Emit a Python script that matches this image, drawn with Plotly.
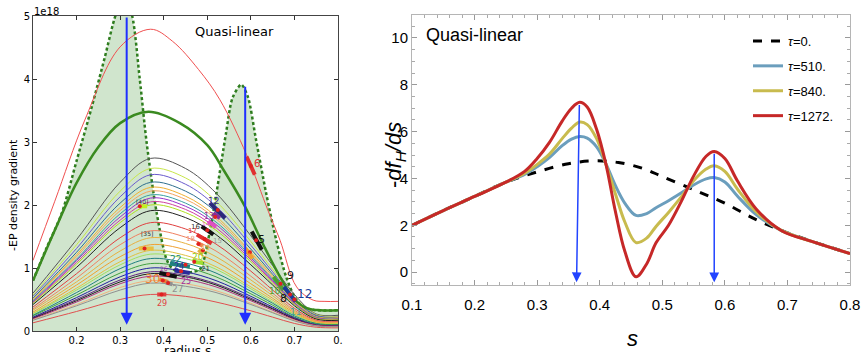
import plotly.graph_objects as go

# ---------------- LEFT PANEL DATA ----------------
# shaded region boundary (dashed green)
band_s = [0.1, 0.13, 0.166, 0.2, 0.235, 0.265, 0.29, 0.31, 0.327, 0.345, 0.361, 0.384, 0.407, 0.422,
          0.45, 0.483, 0.502, 0.521, 0.543, 0.558, 0.578, 0.593, 0.612, 0.635, 0.658, 0.681, 0.70,
          0.72, 0.75, 0.8]
band_v = [0.8, 1.3, 1.87, 2.7, 3.56, 4.35, 5.02, 5.3, 5.02, 4.0, 2.98, 1.87, 1.13, 0.98,
          0.93, 0.98, 1.45, 2.19, 3.14, 3.7, 3.91, 3.72, 3.03, 2.19, 1.45, 0.86, 0.55,
          0.38, 0.33, 0.33]

thick_s = [0.1, 0.15, 0.2, 0.25, 0.3, 0.365, 0.437, 0.5, 0.537, 0.587, 0.63, 0.667, 0.7, 0.73, 0.76, 0.8]
thick_v = [0.8, 1.6, 2.35, 2.92, 3.3, 3.48, 3.3, 2.95, 2.56, 1.97, 1.35, 0.86, 0.5, 0.36, 0.33, 0.33]

redthin_s = [0.1, 0.15, 0.219, 0.3, 0.37, 0.42, 0.48, 0.529, 0.59, 0.64, 0.667, 0.705, 0.743, 0.77, 0.8]
redthin_v = [1.12, 2.06, 3.35, 4.51, 4.79, 4.6, 4.15, 3.67, 2.8, 1.9, 1.44, 0.7, 0.49, 0.47, 0.47]

thin_s = [0.1, 0.2, 0.3, 0.37, 0.45, 0.52, 0.6, 0.65, 0.7, 0.75, 0.8]
thin_curves = [
    [0.60, 1.45, 2.36, 2.74, 2.58, 2.19, 1.51, 1.04, 0.58, 0.27, 0.25],
    [0.57, 1.37, 2.22, 2.58, 2.43, 2.06, 1.42, 0.98, 0.54, 0.26, 0.23],
    [0.55, 1.31, 2.13, 2.48, 2.33, 1.98, 1.36, 0.94, 0.52, 0.25, 0.22],
    [0.52, 1.25, 2.03, 2.36, 2.22, 1.89, 1.30, 0.90, 0.50, 0.24, 0.21],
    [0.50, 1.21, 1.96, 2.28, 2.14, 1.82, 1.25, 0.87, 0.48, 0.23, 0.21],
    [0.49, 1.18, 1.91, 2.22, 2.09, 1.78, 1.22, 0.84, 0.47, 0.22, 0.20],
    [0.48, 1.14, 1.86, 2.16, 2.03, 1.73, 1.19, 0.82, 0.45, 0.22, 0.19],
    [0.46, 1.12, 1.81, 2.11, 1.98, 1.69, 1.16, 0.80, 0.44, 0.21, 0.19],
    [0.45, 1.09, 1.76, 2.05, 1.93, 1.64, 1.13, 0.78, 0.43, 0.21, 0.18],
    [0.44, 1.06, 1.72, 2.00, 1.88, 1.60, 1.10, 0.76, 0.42, 0.20, 0.18],
    [0.42, 1.01, 1.64, 1.91, 1.80, 1.53, 1.05, 0.73, 0.40, 0.19, 0.17],
    [0.38, 0.91, 1.48, 1.72, 1.62, 1.38, 0.95, 0.65, 0.36, 0.17, 0.15],
    [0.35, 0.84, 1.37, 1.59, 1.49, 1.27, 0.87, 0.60, 0.33, 0.16, 0.14],
    [0.33, 0.78, 1.27, 1.48, 1.39, 1.18, 0.81, 0.56, 0.31, 0.15, 0.13],
    [0.30, 0.73, 1.18, 1.37, 1.29, 1.10, 0.75, 0.52, 0.29, 0.14, 0.12],
    [0.28, 0.68, 1.10, 1.28, 1.20, 1.02, 0.70, 0.49, 0.27, 0.13, 0.12],
    [0.27, 0.65, 1.05, 1.22, 1.15, 0.98, 0.67, 0.46, 0.26, 0.12, 0.11],
    [0.25, 0.61, 0.99, 1.15, 1.08, 0.92, 0.63, 0.44, 0.24, 0.12, 0.10],
    [0.24, 0.57, 0.92, 1.07, 1.01, 0.86, 0.59, 0.41, 0.22, 0.11, 0.10],
    [0.22, 0.53, 0.86, 1.00, 0.94, 0.80, 0.55, 0.38, 0.21, 0.10, 0.09],
    [0.21, 0.50, 0.81, 0.94, 0.88, 0.75, 0.52, 0.36, 0.20, 0.09, 0.08],
    [0.20, 0.48, 0.78, 0.91, 0.86, 0.73, 0.50, 0.35, 0.19, 0.09, 0.08],
    [0.19, 0.46, 0.75, 0.87, 0.82, 0.70, 0.48, 0.33, 0.18, 0.09, 0.08],
    [0.18, 0.42, 0.69, 0.80, 0.75, 0.64, 0.44, 0.30, 0.17, 0.08, 0.07],
    [0.17, 0.40, 0.65, 0.76, 0.71, 0.61, 0.42, 0.29, 0.16, 0.08, 0.07],
    [0.13, 0.31, 0.50, 0.58, 0.55, 0.46, 0.32, 0.22, 0.12, 0.06, 0.05],
]
thin_colors = ["#555555", "#c8e64a", "#6a5acd", "#2f6f8f", "#f0b030", "#f4a460", "#3aa0a0",
               "#9932cc", "#d040a0", "#b0e020", "#222222", "#e04040", "#f08060", "#e8b040",
               "#f0a030", "#e0c040", "#a0e060", "#208080", "#40a040", "#2020a0", "#602080",
               "#202020", "#b03080", "#f0b080", "#909090", "#e05050"]

# mode labels
lab_txt = ["6", "5", "9", "10", "8", "12", "11", "12", "13", "14", "16", "17", "18", "15", "19",
           "20", "22", "21", "24", "26", "25", "30", "27", "29", "[40]", "[35]", "7"]
lab_s = [0.614, 0.624, 0.690, 0.655, 0.676, 0.722, 0.702, 0.515, 0.505, 0.498, 0.474, 0.465,
         0.462, 0.523, 0.497, 0.478, 0.427, 0.497, 0.434, 0.400, 0.450, 0.374, 0.432, 0.396,
         0.350, 0.361, 0.595]
lab_v = [2.66, 1.45, 0.88, 0.64, 0.52, 0.58, 0.30, 2.07, 1.81, 1.71, 1.65, 1.58, 1.46, 1.43,
         1.31, 1.17, 1.14, 0.99, 1.02, 1.00, 0.79, 0.82, 0.66, 0.44, 2.05, 1.55, 1.22]
lab_col = ["#e03030", "#111111", "#111111", "#50a030", "#111111", "#1a3a9a", "#40a0a0",
           "#3a2a8a", "#9030a0", "#e050c0", "#333333", "#e03030", "#f09070", "#999999",
           "#e0b040", "#90d020", "#208080", "#333333", "#2a2a9a", "#a030a0", "#a030a0",
           "#f08030", "#909090", "#e04040", "#333333", "#333333", "#f0a030"]
lab_size = [10, 11, 11, 9, 11, 12, 9, 9, 8, 6, 7, 7, 7, 7, 7, 9, 9, 7, 8, 6, 8, 12, 9, 8, 6, 6, 6]

# short thick marker segments
seg_s0 = [0.590, 0.602, 0.587, 0.652, 0.676, 0.506, 0.514, 0.502, 0.487, 0.476, 0.476, 0.480,
          0.468, 0.414, 0.425, 0.390, 0.390, 0.405, 0.385, 0.343, 0.343]
seg_v0 = [2.77, 1.58, 1.31, 0.86, 0.70, 2.03, 1.87, 1.74, 1.66, 1.53, 1.40, 1.29, 1.10, 1.07,
          0.96, 0.92, 0.82, 0.77, 0.58, 1.98, 1.31]
seg_s1 = [0.609, 0.625, 0.604, 0.675, 0.703, 0.541, 0.529, 0.520, 0.514, 0.510, 0.490, 0.490,
          0.490, 0.460, 0.460, 0.430, 0.410, 0.420, 0.406, 0.362, 0.377]
seg_v1 = [2.48, 1.29, 1.15, 0.65, 0.47, 1.79, 1.79, 1.65, 1.53, 1.39, 1.35, 1.22, 1.08, 1.02,
          0.92, 0.86, 0.78, 0.74, 0.58, 1.98, 1.31]
seg_col = ["#e03030", "#111111", "#f0a030", "#50a030", "#1a3a9a", "#2a2a7a", "#8a2a9a",
           "#e050c0", "#111111", "#e03030", "#f08050", "#e0b040", "#a0e030", "#208080",
           "#2a2a9a", "#111111", "#f08030", "#909090", "#e04040", "#c0f020", "#e8c040"]

dot_s = [0.600, 0.612, 0.598, 0.668, 0.690, 0.700, 0.524, 0.518, 0.500, 0.494, 0.480, 0.470,
         0.450, 0.410, 0.440, 0.398, 0.410, 0.395, 0.345, 0.356, 0.490]
dot_v = [2.62, 1.44, 1.25, 0.75, 0.58, 0.50, 1.92, 1.81, 1.60, 1.46, 1.38, 1.10, 1.05, 0.90,
         0.95, 0.80, 0.76, 0.58, 1.98, 1.31, 1.28]

# arrows (left)
arrowL_s = [0.315, 0.587]
arrowL_top = [5.0, 3.9]
arrowL_bot = [0.1, 0.1]

left_xtick_vals = [0.2, 0.3, 0.4, 0.5, 0.6, 0.7, 0.8]
left_xtick_text = ["0.2", "0.3", "0.4", "0.5", "0.6", "0.7", "0."]

# ---------------- RIGHT PANEL DATA ----------------
tau0_s = [0.1, 0.15, 0.2, 0.25, 0.3, 0.35, 0.39, 0.43, 0.47, 0.5, 0.55, 0.6, 0.65, 0.7, 0.75, 0.8]
tau0_v = [2.0, 2.63, 3.23, 3.84, 4.28, 4.63, 4.75, 4.68, 4.42, 4.08, 3.52, 2.94, 2.24, 1.68, 1.22, 0.79]

r_s = [0.1, 0.15, 0.2, 0.25, 0.28, 0.3, 0.32, 0.34, 0.355, 0.368, 0.38, 0.395, 0.41, 0.425,
       0.44, 0.458, 0.475, 0.49, 0.51, 0.53, 0.55, 0.57, 0.583, 0.6, 0.62, 0.65, 0.69, 0.74, 0.8]
tau510_v = [2.0, 2.63, 3.23, 3.84, 4.17, 4.5, 4.9, 5.4, 5.68, 5.79, 5.72, 5.35, 4.62, 3.7,
            2.95, 2.42, 2.5, 2.75, 3.05, 3.38, 3.72, 3.98, 4.04, 3.85, 3.25, 2.46, 1.78, 1.3, 0.79]
tau840_v = [2.0, 2.63, 3.23, 3.84, 4.22, 4.6, 5.05, 5.7, 6.15, 6.41, 6.3, 5.7, 4.6, 3.35,
            2.15, 1.26, 1.45, 1.95, 2.55, 3.2, 3.9, 4.4, 4.54, 4.3, 3.55, 2.58, 1.78, 1.3, 0.79]
tau1272_v = [2.0, 2.63, 3.23, 3.84, 4.3, 4.85, 5.55, 6.45, 7.0, 7.25, 7.05, 6.1, 4.6, 2.6,
             0.9, -0.2, 0.35, 1.25, 2.0, 3.0, 4.1, 4.95, 5.15, 4.85, 3.9, 2.7, 1.78, 1.3, 0.79]

arrowR_s_top = [0.3675, 0.583]
arrowR_s_bot = [0.363, 0.583]
arrowR_top = [7.2, 5.12]
arrowR_bot = [-0.43, -0.43]

fig = go.Figure()

# ---- left traces ----
fig.add_trace(go.Scatter(x=band_s, y=band_v, mode="lines", fill="tozeroy",
                         fillcolor="rgba(80,160,70,0.27)",
                         line=dict(color="#2e7d1e", width=2.5, dash="3px,2.5px", shape="spline", smoothing=0.8),
                         xaxis="x", yaxis="y", showlegend=False))
for vals, col in zip(thin_curves, thin_colors):
    fig.add_trace(go.Scatter(x=thin_s, y=vals, mode="lines", line=dict(color=col, width=1, shape="spline"),
                             xaxis="x", yaxis="y", showlegend=False))
fig.add_trace(go.Scatter(x=thick_s, y=thick_v, mode="lines", line=dict(color="#3a8a20", width=2.5, shape="spline"),
                         xaxis="x", yaxis="y", showlegend=False))
fig.add_trace(go.Scatter(x=redthin_s, y=redthin_v, mode="lines", line=dict(color="#f05050", width=1, shape="spline"),
                         xaxis="x", yaxis="y", showlegend=False))
for a, b, c, d, col in zip(seg_s0, seg_v0, seg_s1, seg_v1, seg_col):
    fig.add_trace(go.Scatter(x=[a, c], y=[b, d], mode="lines", line=dict(color=col, width=4),
                             xaxis="x", yaxis="y", showlegend=False))
fig.add_trace(go.Scatter(x=dot_s, y=dot_v, mode="markers", marker=dict(color="#e02020", size=4),
                         xaxis="x", yaxis="y", showlegend=False))

# ---- right traces ----
fig.add_trace(go.Scatter(x=tau0_s, y=tau0_v, mode="lines", name="<i>τ</i>=0.",
                         line=dict(color="black", width=3, dash="dash", shape="spline"),
                         xaxis="x2", yaxis="y2", legendgroup="a"))
fig.add_trace(go.Scatter(x=r_s, y=tau510_v, mode="lines", name="<i>τ</i>=510.",
                         line=dict(color="#6b9ebd", width=3, shape="spline"),
                         xaxis="x2", yaxis="y2", legendgroup="b"))
fig.add_trace(go.Scatter(x=r_s, y=tau840_v, mode="lines", name="<i>τ</i>=840.",
                         line=dict(color="#c8bb4e", width=3, shape="spline"),
                         xaxis="x2", yaxis="y2", legendgroup="c"))
fig.add_trace(go.Scatter(x=r_s, y=tau1272_v, mode="lines", name="<i>τ</i>=1272.",
                         line=dict(color="#c62828", width=3, shape="spline"),
                         xaxis="x2", yaxis="y2", legendgroup="d"))

annotations = []
for t, s, v, c, sz in zip(lab_txt, lab_s, lab_v, lab_col, lab_size):
    annotations.append(dict(x=s, y=v, xref="x", yref="y", text=t, showarrow=False,
                            xanchor="center", yanchor="middle",
                            font=dict(color=c, size=sz, family="DejaVu Sans")))
for s, top, bot in zip(arrowL_s, arrowL_top, arrowL_bot):
    annotations.append(dict(x=s, y=bot, ax=s, ay=top, xref="x", yref="y", axref="x", ayref="y",
                            text="", showarrow=True, arrowhead=2, arrowsize=1.2, arrowwidth=2,
                            arrowcolor="#1f2fff", standoff=0, startstandoff=0))
for s0, s1, top, bot in zip(arrowR_s_top, arrowR_s_bot, arrowR_top, arrowR_bot):
    annotations.append(dict(x=s1, y=bot, ax=s0, ay=top, xref="x2", yref="y2", axref="x2", ayref="y2",
                            text="", showarrow=True, arrowhead=2, arrowsize=1.3, arrowwidth=1.5,
                            arrowcolor="#2244ff", standoff=0, startstandoff=0))


def paper_text(px, py, text, size, family, xanchor="center", yanchor="middle", angle=0):
    return dict(x=px / 861, y=1 - py / 352, xref="paper", yref="paper", text=text, showarrow=False,
                xanchor=xanchor, yanchor=yanchor, textangle=angle,
                font=dict(size=size, family=family, color="black"))


annotations += [
    paper_text(234, 31, "Quasi-linear", 13, "DejaVu Sans"),
    paper_text(13, 195, "-EP density gradient", 11, "DejaVu Sans", angle=-90),
    paper_text(32, 11, "1e18", 10, "DejaVu Sans", xanchor="left"),
    paper_text(187, 342, "radius s", 12, "DejaVu Sans", yanchor="top"),
    paper_text(424, 35, "Quasi-linear", 18, "Liberation Sans", xanchor="left"),
    paper_text(395, 155, "-<i>df</i><sub><i>H</i></sub><i>/ds</i>", 22, "Liberation Sans", angle=-90),
    paper_text(632, 338, "<i>s</i>", 22, "Liberation Sans"),
]

fig.update_layout(
    template="none",
    width=861, height=352, margin=dict(l=0, r=0, t=0, b=0, pad=0),
    paper_bgcolor="white", plot_bgcolor="white",
    xaxis=dict(domain=[33 / 861, 338 / 861], range=[0.1, 0.8], anchor="y", automargin=False,
               tickvals=left_xtick_vals, ticktext=left_xtick_text, ticks="inside", ticklen=4,
               tickcolor="#333", showline=True, linecolor="#444", linewidth=1, mirror="ticks",
               showgrid=False, zeroline=False, tickfont=dict(size=10, family="DejaVu Sans", color="black")),
    yaxis=dict(domain=[21 / 352, 336 / 352], range=[0, 5], anchor="x", automargin=False,
               tickvals=[0, 1, 2, 3, 4, 5], ticks="inside", ticklen=4, tickcolor="#333",
               showline=True, linecolor="#444", linewidth=1, mirror="ticks",
               showgrid=False, zeroline=False, tickfont=dict(size=10, family="DejaVu Sans", color="black")),
    xaxis2=dict(domain=[412 / 861, 850 / 861], range=[0.1, 0.8], anchor="y2", automargin=False,
                tickvals=[0.1, 0.2, 0.3, 0.4, 0.5, 0.6, 0.7, 0.8],
                ticktext=["0.1", "0.2", "0.3", "0.4", "0.5", "0.6", "0.7", "0.8"],
                ticks="inside", ticklen=5, tickcolor="#999", showline=True, linecolor="#b5b5b5",
                linewidth=1, mirror="ticks", showgrid=False, zeroline=False, ticklabelstandoff=6,
                minor=dict(dtick=0.02, tick0=0.1, ticks="inside", ticklen=3, tickcolor="#aaa", showgrid=False),
                tickfont=dict(size=15, family="Liberation Sans", color="black")),
    yaxis2=dict(domain=[67 / 352, 337 / 352], range=[-0.55, 10.98], anchor="x2", automargin=False,
                tickvals=[0, 2, 4, 6, 8, 10], ticks="inside", ticklen=5, tickcolor="#999",
                showline=True, linecolor="#b5b5b5", linewidth=1, mirror="ticks",
                showgrid=False, zeroline=False,
                minor=dict(dtick=0.5, tick0=0, ticks="inside", ticklen=3, tickcolor="#aaa", showgrid=False),
                tickfont=dict(size=15, family="Liberation Sans", color="black")),
    legend=dict(x=748 / 861, y=1 - 26 / 352, xanchor="left", yanchor="top",
                font=dict(size=13, family="Liberation Sans", color="black"),
                bgcolor="rgba(0,0,0,0)", tracegroupgap=5, itemwidth=30),
    annotations=annotations,
)

fig.write_html("out.html", config={"displayModeBar": False},
               post_script="document.body.style.margin='0px';")
